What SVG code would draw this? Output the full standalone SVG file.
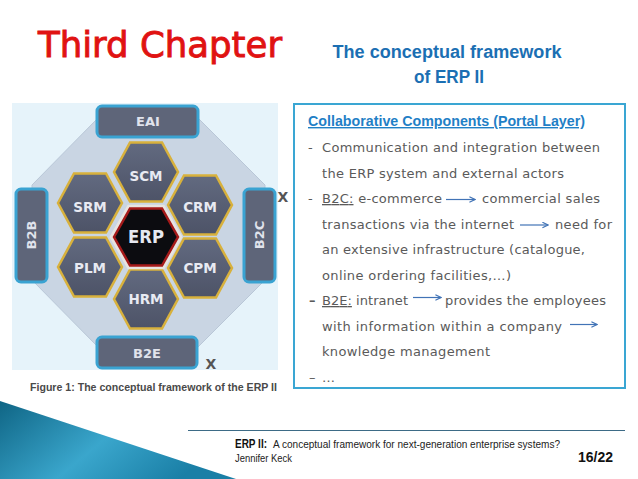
<svg xmlns="http://www.w3.org/2000/svg" width="638" height="479" viewBox="0 0 638 479">
<defs>
<style>
.hex{fill:url(#hexg);stroke:#d8b13c;stroke-width:2.5}
.hl{font-family:"DejaVu Sans",sans-serif;font-weight:bold;font-size:13.5px;fill:#e8eaf2;text-anchor:middle}
.box{fill:#5e6579;stroke:#3aa3d2;stroke-width:3}
.bl{font-family:"DejaVu Sans",sans-serif;font-weight:bold;font-size:13px;fill:#e0e3ec;text-anchor:middle}
.t{font-family:"DejaVu Sans",sans-serif;font-size:13px;fill:#5a5a5a}
.arr{stroke:#4173b6;stroke-width:1.2;fill:none;marker-end:url(#ah)}
.x{font-family:"DejaVu Sans",sans-serif;font-weight:bold;font-size:14px;fill:#555;text-anchor:middle}
</style>
<linearGradient id="hexg" x1="0" y1="0" x2="0" y2="1">
<stop offset="0" stop-color="#626a80"/>
<stop offset="1" stop-color="#4d5367"/>
</linearGradient>
<linearGradient id="tri" x1="0" y1="0" x2="1" y2="0.4">
<stop offset="0" stop-color="#0f6585"/>
<stop offset="0.55" stop-color="#3aa6cc"/>
<stop offset="1" stop-color="#1a7fa6"/>
</linearGradient>
<marker id="ah" viewBox="0 0 10 10" refX="9" refY="5" markerWidth="7" markerHeight="7" markerUnits="userSpaceOnUse" orient="auto">
<path d="M1,1 L9,5 L1,9" fill="none" stroke="#4173b6" stroke-width="1.6"/>
</marker>
</defs>
<rect width="638" height="479" fill="#ffffff"/>

<g id="title">
<text x="38" y="57" font-family="'DejaVu Sans',sans-serif" font-size="35" fill="#e01212" stroke="#e01212" stroke-width="0.9" textLength="244" lengthAdjust="spacingAndGlyphs">Third Chapter</text>
<text x="447" y="58" font-family="'Liberation Sans',sans-serif" font-weight="bold" font-size="18" fill="#1b6fb3" text-anchor="middle" textLength="229" lengthAdjust="spacingAndGlyphs">The conceptual framework</text>
<text x="449" y="83" font-family="'Liberation Sans',sans-serif" font-weight="bold" font-size="18" fill="#1b6fb3" text-anchor="middle" textLength="70" lengthAdjust="spacingAndGlyphs">of ERP II</text>
</g>

<g id="figure">
<rect x="12" y="103" width="266" height="267" fill="#e6f3fa"/>
<polygon points="98,118 198,118 265,185 265,280 198,347 98,347 32,280 32,185" fill="#c9d5e3" stroke="#b9c7d7" stroke-width="1"/>
</g>

<g id="connectors"></g>

<g id="eai">
<rect class="box" x="97" y="106" width="101" height="31" rx="5"/>
<text class="bl" x="148" y="126">EAI</text>
</g>
<g id="b2b">
<rect class="box" x="16" y="189" width="31" height="93" rx="5"/>
<text class="bl" transform="translate(36,235) rotate(-90)">B2B</text>
</g>
<g id="b2c">
<rect class="box" x="244" y="189" width="31" height="93" rx="5"/>
<text class="bl" transform="translate(264,235) rotate(-90)">B2C</text>
</g>
<g id="b2e">
<rect class="box" x="97" y="337" width="100" height="31" rx="5"/>
<text class="bl" x="147" y="358">B2E</text>
</g>

<g id="scm">
<polygon class="hex" points="114,172 130,142.5 162,142.5 178,172 162,201.5 130,201.5"/>
<text class="hl" x="146" y="181">SCM</text>
</g>
<g id="srm">
<polygon class="hex" points="58,203 74,173.5 106,173.5 122,203 106,232.5 74,232.5"/>
<text class="hl" x="90" y="212">SRM</text>
</g>
<g id="crm">
<polygon class="hex" points="168,205 184,175.5 216,175.5 232,205 216,234.5 184,234.5"/>
<text class="hl" x="200" y="212">CRM</text>
</g>
<g id="plm">
<polygon class="hex" points="58,267 74,237.5 106,237.5 122,267 106,296.5 74,296.5"/>
<text class="hl" x="90" y="273">PLM</text>
</g>
<g id="cpm">
<polygon class="hex" points="168,268 184,238.5 216,238.5 232,268 216,297.5 184,297.5"/>
<text class="hl" x="200" y="273">CPM</text>
</g>
<g id="hrm">
<polygon class="hex" points="114,299 130,269.5 162,269.5 178,299 162,328.5 130,328.5"/>
<text class="hl" x="146" y="304">HRM</text>
</g>
<g id="erp">
<polygon points="112,237 129,207 163,207 180,237 163,267 129,267" fill="none" stroke="#e8e4e0" stroke-width="4.5"/>
<polygon points="114,237 130,208.5 162,208.5 178,237 162,265.5 130,265.5" fill="#0c0c10" stroke="#a51a1a" stroke-width="2.5"/>
<text x="146" y="243" font-family="'DejaVu Sans',sans-serif" font-weight="bold" font-size="17" fill="#e6e8f0" text-anchor="middle" textLength="36" lengthAdjust="spacingAndGlyphs">ERP</text>
</g>

<g id="marks">
<text class="x" x="283" y="202">X</text>
<text class="x" x="211" y="369">X</text>
<text x="30" y="391" font-family="'Liberation Sans',sans-serif" font-weight="bold" font-size="11" fill="#4a4a4a" textLength="247" lengthAdjust="spacingAndGlyphs">Figure 1: The conceptual framework of the ERP II</text>
</g>

<g id="textbox">
<rect x="294" y="104" width="331" height="284" fill="#ffffff" stroke="#3aa6d3" stroke-width="2"/>
<text x="308" y="126" font-family="'Liberation Sans',sans-serif" font-weight="bold" font-size="14" fill="#1f80c6" text-decoration="underline" textLength="277" lengthAdjust="spacingAndGlyphs">Collaborative Components (Portal Layer)</text>

<text class="t" x="308" y="152">-</text>
<text class="t" x="322" y="152" textLength="278">Communication and integration between</text>
<text class="t" x="322" y="177.5" textLength="242">the ERP system and external actors</text>

<text class="t" x="308" y="203">-</text>
<text class="t" x="322" y="203" textLength="120"><tspan text-decoration="underline">B2C:</tspan> e-commerce</text>
<line class="arr" x1="446" y1="199.5" x2="475" y2="199.5"/>
<text class="t" x="482" y="203" textLength="118">commercial sales</text>

<text class="t" x="322" y="228.5" textLength="192">transactions via the internet</text>
<line class="arr" x1="520" y1="225" x2="548" y2="225"/>
<text class="t" x="555" y="228.5" textLength="57">need for</text>

<text class="t" x="322" y="254" textLength="263">an extensive infrastructure (catalogue,</text>
<text class="t" x="322" y="279.5" textLength="189">online ordering facilities,…)</text>

<text class="t" x="309" y="305" font-weight="bold" fill="#444">–</text>
<text class="t" x="322" y="305" textLength="86"><tspan text-decoration="underline">B2E:</tspan> intranet</text>
<line class="arr" x1="413" y1="297.5" x2="441" y2="297.5"/>
<text class="t" x="445" y="305" textLength="161">provides the employees</text>

<text class="t" x="322" y="330.5" textLength="240">with information within a company</text>
<line class="arr" x1="570" y1="324.5" x2="597" y2="324.5"/>
<text class="t" x="322" y="356" textLength="168">knowledge management</text>

<text class="t" x="309" y="381.5">–</text>
<text class="t" x="322" y="381.5">…</text>
</g>

<g id="footer">
<polygon points="0,401 236,479 0,479" fill="url(#tri)"/>
<line x1="188" y1="430.5" x2="625" y2="430.5" stroke="#3d6b86" stroke-width="1"/>
<text x="235" y="448" font-family="'Liberation Sans',sans-serif" font-weight="bold" font-size="12" fill="#111" textLength="32" lengthAdjust="spacingAndGlyphs">ERP II:</text>
<text x="273" y="448" font-family="'Liberation Sans',sans-serif" font-size="11" fill="#222" textLength="287" lengthAdjust="spacingAndGlyphs">A conceptual framework for next-generation enterprise systems?</text>
<text x="235" y="462" font-family="'Liberation Sans',sans-serif" font-size="11" fill="#222" textLength="57" lengthAdjust="spacingAndGlyphs">Jennifer Keck</text>
<text x="578" y="462" font-family="'Liberation Sans',sans-serif" font-weight="bold" font-size="14" fill="#111" textLength="35" lengthAdjust="spacingAndGlyphs">16/22</text>
</g>
</svg>
